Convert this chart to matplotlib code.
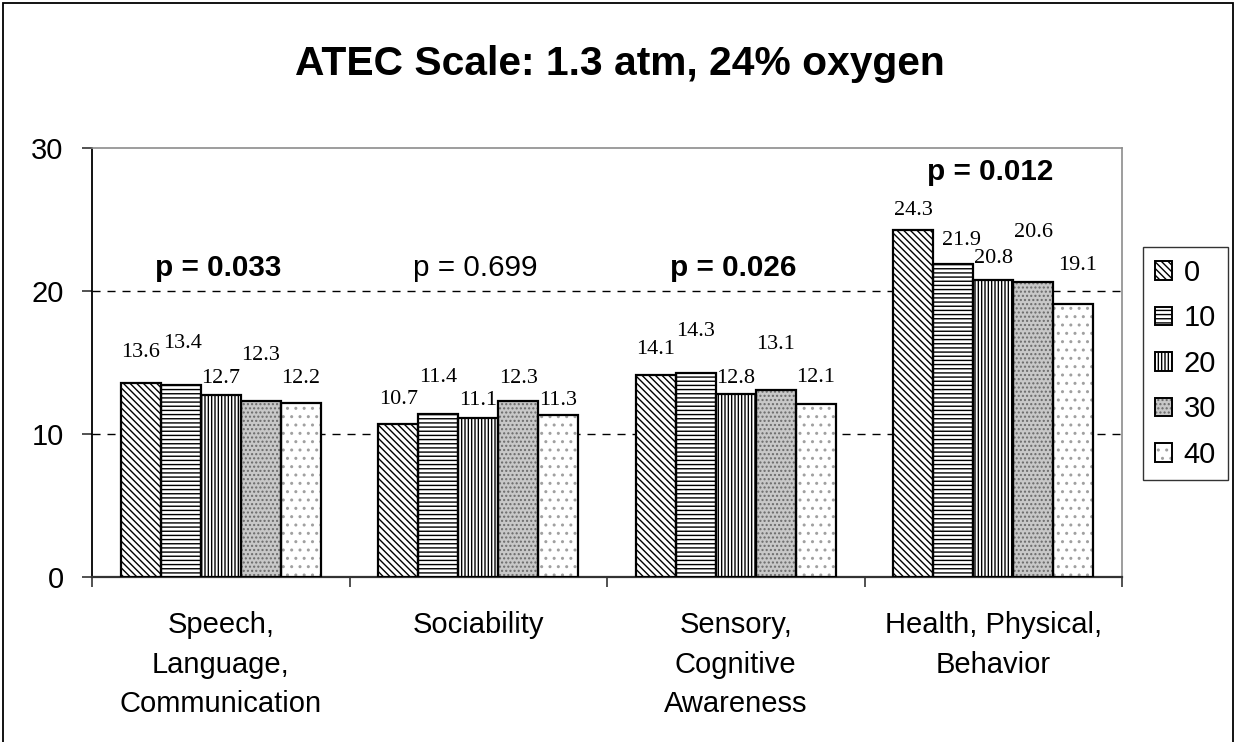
import matplotlib
matplotlib.use("Agg")
import matplotlib.pyplot as plt
import numpy as np
from matplotlib.patches import Patch, Rectangle
from matplotlib.legend_handler import HandlerTuple

categories = ["Speech,\nLanguage,\nCommunication", "Sociability",
              "Sensory,\nCognitive\nAwareness", "Health, Physical,\nBehavior"]
series_names = ["0", "10", "20", "30", "40"]
values = {
    "0":  [13.6, 10.7, 14.1, 24.3],
    "10": [13.4, 11.4, 14.3, 21.9],
    "20": [12.7, 11.1, 12.8, 20.8],
    "30": [12.3, 12.3, 13.1, 20.6],
    "40": [12.2, 11.3, 12.1, 19.1],
}
p_texts = ["p = 0.033", "p = 0.699", "p = 0.026", "p = 0.012"]
p_bold = [True, False, True, True]
p_y = [21.6, 21.6, 21.6, 28.3]

# label vertical offsets (pixels above bar tops), per category then series
label_offsets = [
    [30, 42, 17, 46, 24],
    [24, 36, 18, 23, 15],
    [26, 41, 15, 45, 26],
    [19, 23, 21, 50, 38],
]
label_dx = [
    [0, 2, 0, 0, 0],
    [0, 0, 0, 0, 0],
    [0, 0, 0, 0, 0],
    [0, 8, 0, 0, 5],
]

styles = {
    "0":  dict(face="white", hatch="\\" * 5, hc="black"),
    "10": dict(face="white", hatch="-" * 4, hc="black"),
    "20": dict(face="white", hatch="|" * 5, hc="black"),
    "30": dict(face="#c8c8c8", hatch="." * 4, hc="#6a6a6a"),
    "40": dict(face="white", hatch="." * 2, hc="#a0a0a0"),
}

plt.rcParams["hatch.linewidth"] = 1.0
sans = "Liberation Sans"
serif = "Liberation Serif"

fig = plt.figure(figsize=(12.35, 7.42), dpi=100)
fig.patch.set_facecolor("white")
ax = fig.add_axes([92 / 1235, 1 - 577 / 742, (1122 - 92) / 1235, (577 - 148) / 742])

# outer frame
fig.add_artist(Rectangle((3 / 1235, -0.1), (1233 - 3) / 1235, 1.1 - 3 / 742,
                         transform=fig.transFigure, fill=False, edgecolor="black",
                         linewidth=1.3, clip_on=False))

x = np.arange(len(categories))
bw = 0.155
n = len(series_names)
for i, s in enumerate(series_names):
    st = styles[s]
    xs = x + (i - (n - 1) / 2) * bw
    ax.bar(xs, values[s], bw, facecolor=st["face"], hatch=st["hatch"],
           edgecolor=st["hc"], linewidth=0, zorder=3)
    ax.bar(xs, values[s], bw, fill=False, edgecolor="black", linewidth=1.6, zorder=4)
    for j, v in enumerate(values[s]):
        ax.annotate(f"{v:.1f}", (xs[j], v), xytext=(label_dx[j][i], label_offsets[j][i]),
                    textcoords="offset pixels", ha="center", va="center",
                    fontsize=16, family=serif, color="black", zorder=5)

for j, t in enumerate(p_texts):
    ax.text(x[j] - 0.01, p_y[j], t, ha="center", va="center", fontsize=21.3, family=sans,
            fontweight="bold" if p_bold[j] else "normal", zorder=5)

ax.set_xlim(-0.5, len(categories) - 0.5)
ax.set_ylim(0, 30)
ax.set_yticks([0, 10, 20, 30])
ax.set_yticklabels(["0", "10", "20", "30"], fontsize=21, family=sans)
ax.tick_params(axis="y", direction="out", length=7, width=1.2, pad=13.5, color="#333333")
ax.set_xticks(np.arange(-0.5, len(categories), 1.0))
ax.set_xticklabels([])
ax.tick_params(axis="x", direction="out", length=7, width=1.2, color="#333333")
for j, c in enumerate(categories):
    ax.text(x[j], -2.4, c, ha="center", va="top", fontsize=21, family=sans,
            linespacing=1.52, transform=ax.transData)

for yv in [10, 20]:
    ax.axhline(yv, color="black", linestyle=(0, (5.8, 5)), linewidth=1.0, zorder=1)

ax.spines["left"].set_color("black")
ax.spines["left"].set_linewidth(1.3)
ax.spines["bottom"].set_color("#333333")
ax.spines["bottom"].set_linewidth(1.6)
ax.spines["top"].set_color("#8c8c8c")
ax.spines["right"].set_color("#8c8c8c")
ax.spines["top"].set_linewidth(1.2)
ax.spines["right"].set_linewidth(1.2)

handles = [(Patch(facecolor=styles[s]["face"], hatch=styles[s]["hatch"],
                  edgecolor=styles[s]["hc"], linewidth=0),
            Patch(fill=False, edgecolor="black", linewidth=1.4)) for s in series_names]
leg = fig.legend(handles, series_names, loc="upper left",
                 bbox_to_anchor=(1143 / 1235, 1 - 247 / 742),
                 handler_map={tuple: HandlerTuple(ndivide=1)},
                 prop={"family": sans, "size": 21}, frameon=True, fancybox=False,
                 edgecolor="black", handlelength=0.6, handleheight=0.6,
                 handletextpad=0.4, labelspacing=0.6, borderpad=0.4,
                 borderaxespad=0)
leg.get_frame().set_linewidth(1.0)

fig.text(620 / 1235, 1 - 64 / 742, "ATEC Scale: 1.3 atm, 24% oxygen", ha="center",
         va="center", fontsize=29.3, fontweight="bold", family=sans)

fig.savefig("out.png", dpi=100, facecolor="white")
